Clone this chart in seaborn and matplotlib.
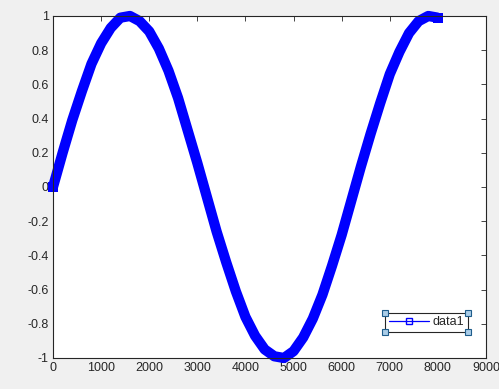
import matplotlib
matplotlib.use("Agg")
import matplotlib.pyplot as plt
import seaborn as sns
import pandas as pd
from matplotlib.lines import Line2D

x_vals = [0, 200, 400, 600, 800, 1000, 1200, 1400, 1600, 1800, 2000, 2200, 2400, 2600,
          2800, 3000, 3200, 3400, 3600, 3800, 4000, 4200, 4400, 4600, 4800, 5000, 5200,
          5400, 5600, 5800, 6000, 6200, 6400, 6600, 6800, 7000, 7200, 7400, 7600, 7800, 8000]
y_vals = [0.00, 0.20, 0.39, 0.56, 0.72, 0.84, 0.93, 0.99, 1.00, 0.97, 0.91, 0.81, 0.68, 0.52,
          0.33, 0.14, -0.06, -0.26, -0.44, -0.61, -0.76, -0.87, -0.95, -0.99, -1.00, -0.96, -0.88,
          -0.77, -0.63, -0.46, -0.28, -0.08, 0.12, 0.31, 0.49, 0.66, 0.79, 0.90, 0.97, 1.00, 0.99]
x_ticks = [0, 1000, 2000, 3000, 4000, 5000, 6000, 7000, 8000, 9000]
y_ticks = [-1, -0.8, -0.6, -0.4, -0.2, 0, 0.2, 0.4, 0.6, 0.8, 1]
series_name = "data1"

sns.set_style("white")
plt.rcParams['font.family'] = ['Liberation Sans', 'DejaVu Sans']

df = pd.DataFrame({"x": x_vals, "y": y_vals})

fig = plt.figure(figsize=(4.99, 3.89), dpi=100, facecolor="#f0f0f0")
ax = fig.add_axes([0.1062, 0.0797, 0.8678, 0.8792])
ax.set_facecolor("white")

sns.lineplot(data=df, x="x", y="y", ax=ax, color="#0000ff", linewidth=7.4,
             solid_joinstyle="round", solid_capstyle="butt",
             marker="s", markersize=7.4, markeredgewidth=0,
             markevery=[0, len(x_vals) - 1],
             clip_on=False, legend=False)

ax.set_xlim(0, 9000)
ax.set_ylim(-1, 1)
ax.set_xticks(x_ticks)
ax.set_yticks(y_ticks)
ax.set_xticklabels([str(v) for v in x_ticks])
ax.set_yticklabels(["%g" % v for v in y_ticks])
ax.set_xlabel("")
ax.set_ylabel("")
ax.tick_params(direction="in", top=True, right=True, length=3.5, width=0.6,
               labelsize=9, colors="#262626", pad=3)
for s in ax.spines.values():
    s.set_color("#262626")
    s.set_linewidth(0.8)
    s.set_visible(True)

handle = Line2D([], [], color="#0000ff", linewidth=0.9, marker="s", markersize=5,
                markerfacecolor="none", markeredgecolor="#0000ff")
leg = ax.legend([handle], [series_name], loc="lower right",
                bbox_to_anchor=(0.958, 0.076), borderaxespad=0, fancybox=False,
                framealpha=1, edgecolor="#262626", fontsize=9, handlelength=3.2,
                borderpad=0.3, handletextpad=0.3)
leg.get_frame().set_linewidth(0.8)
for t in leg.get_texts():
    t.set_color("#262626")

fig.canvas.draw()
bb = leg.get_window_extent().transformed(ax.transAxes.inverted())
cx = [bb.x0, bb.x1, bb.x0, bb.x1]
cy = [bb.y0, bb.y0, bb.y1, bb.y1]
ax.plot(cx, cy, linestyle="none", marker="s", markersize=4.5,
        markerfacecolor="#aacde8", markeredgecolor="#1f5d8c", markeredgewidth=0.8,
        transform=ax.transAxes, clip_on=False, zorder=10)

fig.savefig("out.png", dpi=100, facecolor=fig.get_facecolor())
